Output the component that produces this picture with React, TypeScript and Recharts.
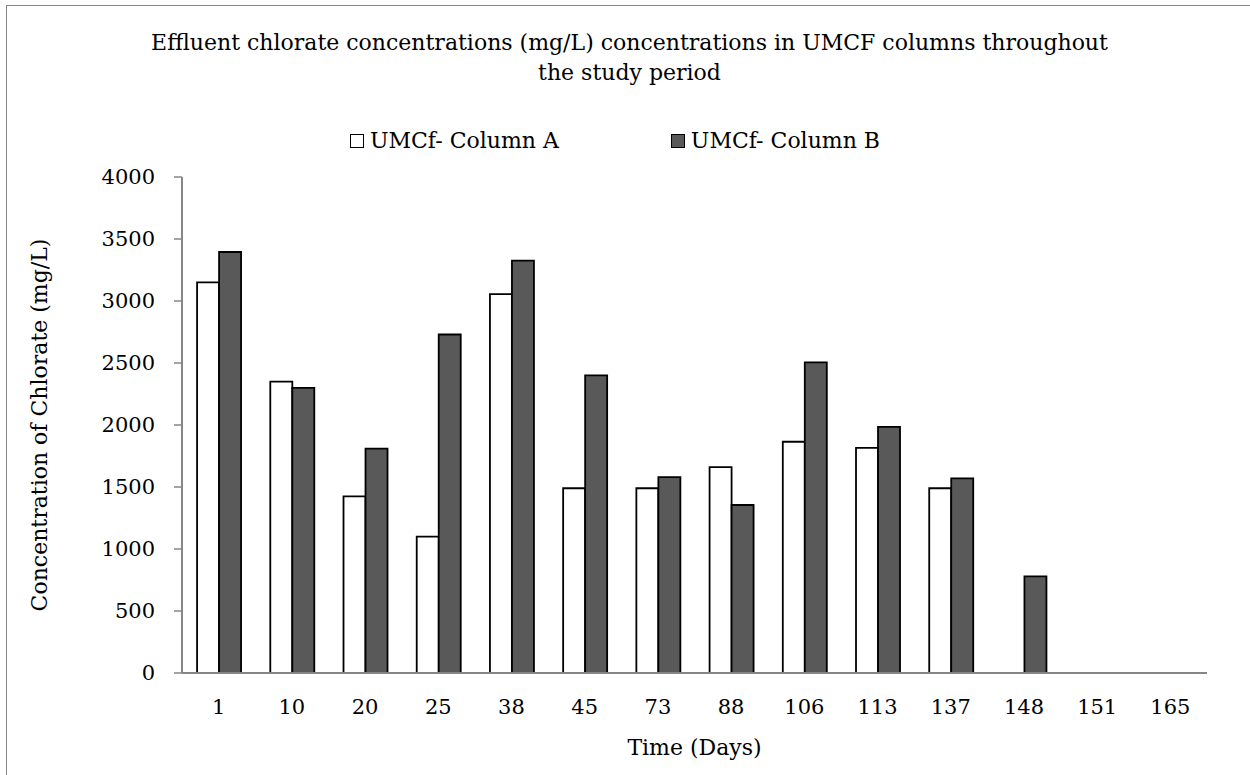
import React from 'react';
import { BarChart, Bar, XAxis, YAxis, Legend } from 'recharts';

const days = ['1', '10', '20', '25', '38', '45', '73', '88', '106', '113', '137', '148', '151', '165'];
const columnA = [3150, 2350, 1425, 1100, 3055, 1490, 1490, 1660, 1865, 1815, 1490, 0, 0, 0];
const columnB = [3395, 2300, 1810, 2730, 3325, 2400, 1580, 1355, 2505, 1985, 1570, 780, 0, 0];
const yTicks = [0, 500, 1000, 1500, 2000, 2500, 3000, 3500, 4000];
const seriesNames = ['UMCf- Column A', 'UMCf- Column B'];
const titleLines = [
  'Effluent chlorate concentrations (mg/L) concentrations in UMCF columns throughout',
  'the study period',
];

const data = days.map((d, i) => ({ day: d, a: columnA[i], b: columnB[i] }));
const boundaryTicks = Array.from({ length: days.length + 1 }, (_, i) => i);

const FONT = '"DejaVu Serif", serif';
const GRAY = '#868686';

const LegendContent = (props: any) => {
  const payload = props.payload || [];
  return (
    <div style={{ display: 'flex', justifyContent: 'center', fontFamily: FONT, fontSize: 22, color: '#000' }}>
      {payload.map((p: any, i: number) => (
        <div key={i} style={{ display: 'flex', alignItems: 'center', marginLeft: i === 0 ? 0 : 112 }}>
          <span
            style={{
              display: 'inline-block',
              width: 12,
              height: 12,
              background: p.color,
              border: '1.5px solid #000',
              marginRight: 6,
            }}
          />
          <span>{p.value}</span>
        </div>
      ))}
    </div>
  );
};

export default function App() {
  return (
    <div
      style={{
        position: 'absolute',
        left: 0,
        top: 0,
        width: 1250,
        height: 775,
        overflow: 'hidden',
        background: '#fff',
      }}
    >
      <div
        style={{
          position: 'absolute',
          left: 6,
          top: 5,
          width: 1260,
          height: 800,
          borderTop: `1.5px solid ${GRAY}`,
          borderLeft: `1.5px solid ${GRAY}`,
        }}
      />
      <div
        style={{
          position: 'absolute',
          left: 0,
          top: 28,
          width: 1259,
          textAlign: 'center',
          fontFamily: FONT,
          fontSize: 22,
          lineHeight: '30px',
          color: '#000',
        }}
      >
        {titleLines.map((t, i) => (
          <div key={i}>{t}</div>
        ))}
      </div>
      <BarChart
        width={1250}
        height={775}
        data={data}
        margin={{ top: 177, right: 43, bottom: 0, left: 0 }}
        barCategoryGap="20.6%"
        barGap={0}
        style={{ position: 'absolute', left: 0, top: 0 }}
      >
        <XAxis
          xAxisId="ticks"
          type="number"
          domain={[0, days.length]}
          ticks={boundaryTicks}
          allowDataOverflow
          height={0}
          axisLine={false}
          tickLine={{ stroke: GRAY, strokeWidth: 1.5 }}
          tickSize={8}
          tickFormatter={() => ''}
        />
        <XAxis
          xAxisId="cat"
          dataKey="day"
          height={102}
          axisLine={{ stroke: GRAY, strokeWidth: 2 }}
          tickLine={false}
          tickSize={0}
          tickMargin={26}
          interval={0}
          tick={{ fill: '#000', fontFamily: FONT, fontSize: 21 }}
          label={{
            content: (p: any) => {
              const vb = p.viewBox || {};
              return (
                <text
                  x={vb.x + vb.width / 2}
                  y={vb.y + 74}
                  textAnchor="middle"
                  dominantBaseline="central"
                  fontFamily={FONT}
                  fontSize={22}
                  fill="#000"
                >
                  Time (Days)
                </text>
              );
            },
          }}
        />
        <XAxis
          xAxisId="top"
          orientation="top"
          dataKey="day"
          height={0}
          axisLine={{ stroke: '#000', strokeWidth: 2 }}
          tickLine={false}
          tickFormatter={() => ''}
        />
        <YAxis
          yAxisId="left"
          width={182}
          domain={[0, 4000]}
          ticks={yTicks}
          axisLine={{ stroke: GRAY, strokeWidth: 2 }}
          tickLine={{ stroke: GRAY, strokeWidth: 1.5 }}
          tickSize={8}
          tickMargin={19}
          tick={{ fill: '#000', fontFamily: FONT, fontSize: 21 }}
          label={{
            content: (p: any) => {
              const vb = p.viewBox || {};
              const cx = vb.x + 39;
              const cy = vb.y + vb.height / 2;
              return (
                <text
                  x={cx}
                  y={cy}
                  transform={`rotate(-90, ${cx}, ${cy})`}
                  textAnchor="middle"
                  dominantBaseline="central"
                  fontFamily={FONT}
                  fontSize={22}
                  fill="#000"
                >
                  Concentration of Chlorate (mg/L)
                </text>
              );
            },
          }}
        />
        <YAxis
          yAxisId="right"
          orientation="right"
          width={0}
          domain={[0, 4000]}
          ticks={yTicks}
          axisLine={{ stroke: '#000', strokeWidth: 2 }}
          tickLine={false}
          tickFormatter={() => ''}
        />
        <Legend
          layout="horizontal"
          verticalAlign="middle"
          align="center"
          wrapperStyle={{ top: 128, left: 0, width: 1230 }}
          content={<LegendContent />}
        />
        <Bar
          xAxisId="cat"
          yAxisId="left"
          dataKey="a"
          name={seriesNames[0]}
          fill="#ffffff"
          stroke="#000"
          strokeWidth={1.8}
          isAnimationActive={false}
        />
        <Bar
          xAxisId="cat"
          yAxisId="left"
          dataKey="b"
          name={seriesNames[1]}
          fill="#595959"
          stroke="#000"
          strokeWidth={1.8}
          isAnimationActive={false}
        />
      </BarChart>
    </div>
  );
}
